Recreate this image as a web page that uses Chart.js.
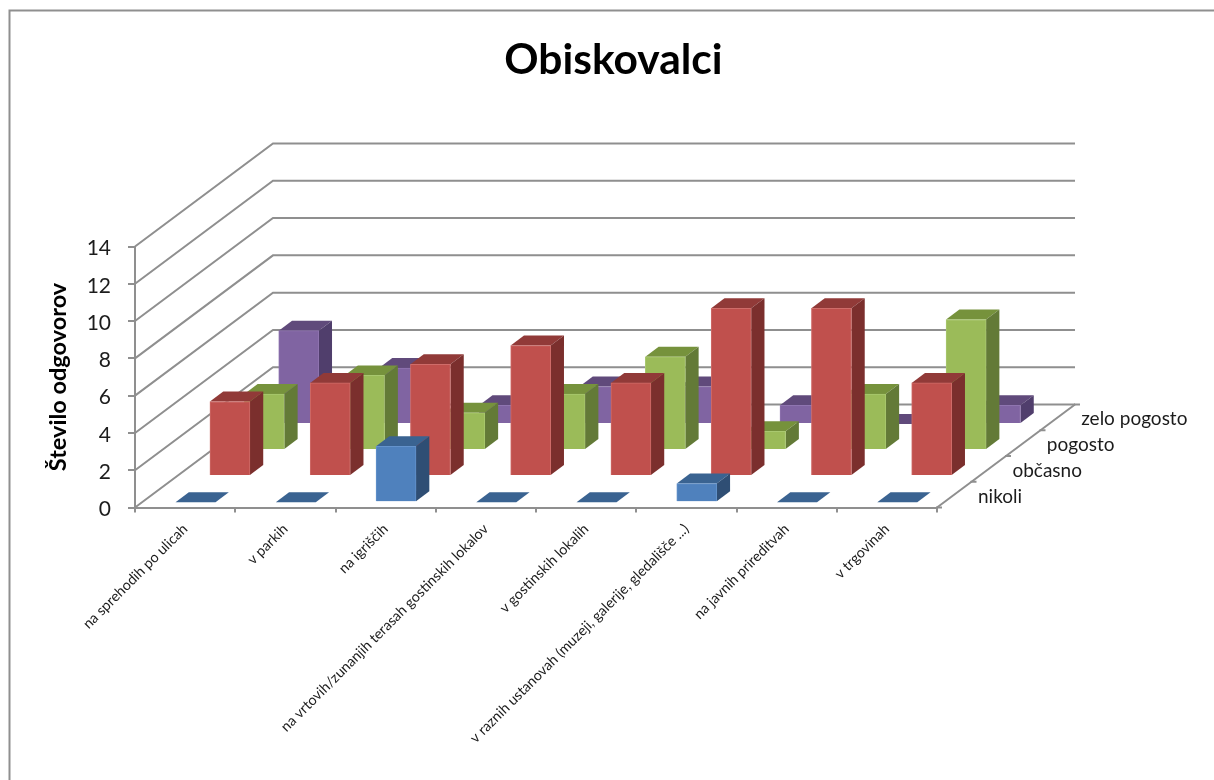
<!DOCTYPE html>
<html>
<head>
<meta charset="utf-8">
<title>Obiskovalci</title>
<script src="https://cdn.jsdelivr.net/npm/chart.js@4/dist/chart.umd.min.js"></script>
<style>
    html, body { margin: 0; padding: 0; background: #fff; }
    #wrap { width: 1214px; height: 780px; }
</style>
</head>
<body>
<div id="wrap"><canvas id="chart" width="1214" height="780"></canvas></div>
<script>
const categories = [
    "na sprehodih po ulicah",
    "v parkih",
    "na igriščih",
    "na vrtovih/zunanjih terasah gostinskih lokalov",
    "v gostinskih lokalih",
    "v raznih ustanovah (muzeji, galerije, gledališče ...)",
    "na javnih prireditvah",
    "v trgovinah"
];
const seriesNames = ["nikoli", "občasno", "pogosto", "zelo pogosto"];
const nikoli = [0, 0, 3, 0, 0, 1, 0, 0];
const obcasno = [4, 5, 6, 7, 5, 9, 9, 5];
const pogosto = [3, 4, 2, 3, 5, 1, 3, 7];
const zeloPogosto = [5, 3, 1, 2, 2, 1, 0, 1];
const yTicks = [0, 2, 4, 6, 8, 10, 12, 14];

const GREY = "#8f8f8f";
const FRONT = ["#4f81bd", "#c0504d", "#9bbb59", "#8064a2"];
const EDGE = ["#6493cc", "#cf6c69", "#a9c86f", "#8f75b0"];
const TOP = ["#3a6391", "#913a38", "#76923c", "#604a7b"];
const SIDE = ["#2f4e74", "#7b2f2d", "#637a37", "#503e6c"];

// 3d projection, in pixels
const WALL_DX = 138, WALL_DY = -103;   // front plane -> back wall
const BAR_DX = 13.3, BAR_DY = -10;     // depth of one bar
const slotX = k => 10.4 + 34.4 * k;
const slotY = k => -5.3 - 26.1 * k;

const walls3d = {
    id: "walls3d",
    afterLayout(chart) {
        // title is centred on the whole picture, not the narrowed plot
        chart.titleBlock.left = 13;
        chart.titleBlock.right = 1214;
    },
    beforeDatasetsDraw(chart) {
        const { ctx, chartArea, scales } = chart;
        const left = chartArea.left, right = chartArea.right, bottom = chartArea.bottom;
        ctx.save();
        ctx.strokeStyle = GREY;
        ctx.lineWidth = 2;
        // frame
        ctx.beginPath();
        ctx.moveTo(9.5, 780);
        ctx.lineTo(9.5, 10.5);
        ctx.lineTo(1214, 10.5);
        ctx.stroke();
        // side wall + back wall
        yTicks.forEach(v => {
            const y = scales.y.getPixelForValue(v);
            ctx.beginPath();
            ctx.moveTo(left, y);
            ctx.lineTo(left + WALL_DX, y + WALL_DY);
            ctx.lineTo(right + WALL_DX, y + WALL_DY);
            ctx.stroke();
        });
        // right floor edge with its ticks
        ctx.beginPath();
        ctx.moveTo(right, bottom);
        ctx.lineTo(right + WALL_DX, bottom + WALL_DY);
        ctx.stroke();
        for (let k = 0; k <= seriesNames.length; k++) {
            const x = right + WALL_DX * k / seriesNames.length;
            const y = bottom + WALL_DY * k / seriesNames.length;
            ctx.beginPath();
            ctx.moveTo(x - 1, y);
            ctx.lineTo(x + 5, y);
            ctx.stroke();
        }
        // series names along the depth axis
        ctx.fillStyle = "#1c1c1c";
        ctx.font = "19px Lato";
        ctx.textAlign = "left";
        ctx.textBaseline = "middle";
        seriesNames.forEach((name, k) => {
            ctx.fillText(name, right + 41 + 34.4 * k, bottom - 11 - 25.8 * k);
        });
        ctx.restore();
    },
    beforeDatasetDraw(chart, args) {
        const { ctx } = chart;
        const k = args.index;
        ctx.save();
        ctx.translate(slotX(k), slotY(k));
        args.meta.data.forEach(bar => {
            const p = bar.getProps(["x", "y", "base", "width"], true);
            const x0 = p.x - p.width / 2, x1 = p.x + p.width / 2;
            // top face
            ctx.fillStyle = TOP[k];
            ctx.beginPath();
            ctx.moveTo(x0, p.y);
            ctx.lineTo(x0 + BAR_DX, p.y + BAR_DY);
            ctx.lineTo(x1 + BAR_DX, p.y + BAR_DY);
            ctx.lineTo(x1, p.y);
            ctx.closePath();
            ctx.fill();
            // side face
            ctx.fillStyle = SIDE[k];
            ctx.beginPath();
            ctx.moveTo(x1, p.y);
            ctx.lineTo(x1 + BAR_DX, p.y + BAR_DY);
            ctx.lineTo(x1 + BAR_DX, p.base + BAR_DY);
            ctx.lineTo(x1, p.base);
            ctx.closePath();
            ctx.fill();
        });
    },
    afterDatasetDraw(chart) {
        chart.ctx.restore();
    }
};

const seriesValues = [nikoli, obcasno, pogosto, zeloPogosto];

new Chart(document.getElementById("chart"), {
    type: "bar",
    plugins: [walls3d],
    data: {
        labels: categories,
        datasets: seriesValues.map((values, k) => ({
            label: seriesNames[k],
            data: values,
            grouped: false,
            barThickness: 40,
            backgroundColor: FRONT[k],
            borderColor: EDGE[k],
            borderWidth: 1,
            clip: false
        }))
    },
    options: {
        responsive: false,
        animation: false,
        layout: { padding: { left: 13, right: 277, top: 0, bottom: 0 } },
        plugins: {
            legend: { display: false },
            tooltip: { enabled: false },
            title: {
                display: true,
                text: "Obiskovalci",
                color: "#000",
                font: { family: "Lato", size: 42.5, weight: "bold", lineHeight: 1.2 },
                padding: { top: 34.5, bottom: 161 }
            }
        },
        scales: {
            x: {
                afterFit: scale => { scale.height = 272.5; },
                grid: { drawOnChartArea: false, color: GREY, lineWidth: 2, tickLength: 5 },
                border: { color: GREY, width: 2 },
                ticks: {
                    autoSkip: false,
                    minRotation: 45,
                    maxRotation: 45,
                    padding: 8,
                    color: "#1c1c1c",
                    font: { family: "Lato", size: 14.3 }
                }
            },
            y: {
                min: 0,
                max: 14,
                afterFit: scale => { scale.width = 122; },
                afterBuildTicks: scale => { scale.ticks = yTicks.map(value => ({ value })); },
                grid: { drawOnChartArea: false, color: GREY, lineWidth: 2, tickLength: 7 },
                border: { color: GREY, width: 2 },
                ticks: {
                    padding: 17,
                    labelOffset: 2,
                    color: "#1c1c1c",
                    font: { family: "Lato", size: 21 }
                },
                title: {
                    display: true,
                    text: "Število odgovorov",
                    color: "#000",
                    font: { family: "Lato", size: 23.5, weight: "bold" },
                    padding: { top: 31, bottom: 0 }
                }
            }
        }
    }
});
</script>
</body>
</html>
